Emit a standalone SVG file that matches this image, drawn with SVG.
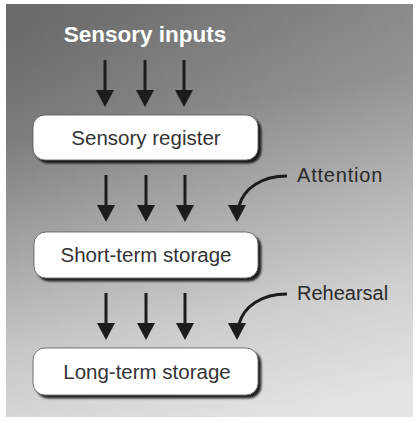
<svg xmlns="http://www.w3.org/2000/svg" width="419" height="423" viewBox="0 0 419 423">
  <defs>
    <linearGradient id="bg" x1="0.42" y1="0" x2="0.58" y2="1">
      <stop offset="0" stop-color="#6a6a6a"/>
      <stop offset="0.25" stop-color="#7c7c7c"/>
      <stop offset="0.5" stop-color="#a2a2a2"/>
      <stop offset="0.75" stop-color="#c6c6c6"/>
      <stop offset="1" stop-color="#dedede"/>
    </linearGradient>
    <linearGradient id="sheen" x1="0" y1="0" x2="1" y2="0">
      <stop offset="0" stop-color="#ffffff" stop-opacity="0"/>
      <stop offset="1" stop-color="#ffffff" stop-opacity="0.18"/>
    </linearGradient>
    <filter id="shadow" x="-10%" y="-20%" width="130%" height="160%">
      <feGaussianBlur in="SourceAlpha" stdDeviation="1.3"/>
      <feOffset dx="3" dy="3" result="b"/>
      <feComponentTransfer><feFuncA type="linear" slope="0.85"/></feComponentTransfer>
      <feMerge><feMergeNode/><feMergeNode in="SourceGraphic"/></feMerge>
    </filter>
  </defs>
  <style>
    .box { fill: #ffffff; stroke: #555555; stroke-width: 0.8; filter: url(#shadow); }
    .label { font-family: "Liberation Sans", Arial, sans-serif; font-size: 20.5px; fill: #333333; text-anchor: middle; }
    .side { font-family: "Liberation Sans", Arial, sans-serif; font-size: 20px; fill: #2a2a2a; }
    .title { font-family: "Liberation Sans", Arial, sans-serif; font-size: 22.5px; font-weight: bold; fill: #ffffff; text-anchor: middle; }
    .shaft { stroke: #1c1c1c; stroke-width: 3; fill: none; }
    .head { fill: #1c1c1c; }
  </style>

  <!-- page and shaded panel -->
  <rect x="0" y="0" width="419" height="423" fill="#ffffff"/>
  <rect x="6" y="4" width="407" height="413" fill="url(#bg)"/>
  <rect x="6" y="4" width="407" height="413" fill="url(#sheen)"/>

  <text class="title" x="145" y="42">Sensory inputs</text>

  <g id="sensory-register">
    <rect class="box" x="33" y="115" width="225" height="45" rx="12"/>
    <text class="label" x="146" y="145">Sensory register</text>
  </g>

  <g id="short-term-storage">
    <rect class="box" x="34" y="232" width="224" height="46" rx="12"/>
    <text class="label" x="146" y="262">Short-term storage</text>
  </g>

  <g id="long-term-storage">
    <rect class="box" x="33" y="348" width="225" height="47" rx="12"/>
    <text class="label" x="147" y="379">Long-term storage</text>
  </g>

  <g id="attention-label">
    <text class="side" x="297" y="182" letter-spacing="0.8">Attention</text>
  </g>
  <g id="rehearsal-label">
    <text class="side" x="297" y="300">Rehearsal</text>
  </g>

  <g id="connectors">
    <!-- inputs into the sensory register -->
    <path class="shaft" d="M105,60 V91"/><path class="head" d="M96,90 H114 L105,107 Z"/>
    <path class="shaft" d="M145,60 V91"/><path class="head" d="M136,90 H154 L145,107 Z"/>
    <path class="shaft" d="M184,60 V91"/><path class="head" d="M175,90 H193 L184,107 Z"/>

    <!-- sensory register to short-term storage -->
    <path class="shaft" d="M106,175 V206"/><path class="head" d="M97,205 H115 L106,222 Z"/>
    <path class="shaft" d="M146,175 V206"/><path class="head" d="M137,205 H155 L146,222 Z"/>
    <path class="shaft" d="M185,175 V206"/><path class="head" d="M176,205 H194 L185,222 Z"/>
    <path class="shaft" d="M287,176 C262,176 244,188 239,206"/><path class="head" d="M228,205 H246 L237,222 Z"/>

    <!-- short-term to long-term storage -->
    <path class="shaft" d="M106,293 V324"/><path class="head" d="M97,323 H115 L106,340 Z"/>
    <path class="shaft" d="M146,293 V324"/><path class="head" d="M137,323 H155 L146,340 Z"/>
    <path class="shaft" d="M185,293 V324"/><path class="head" d="M176,323 H194 L185,340 Z"/>
    <path class="shaft" d="M287,294 C262,294 244,306 239,324"/><path class="head" d="M228,323 H246 L237,340 Z"/>
  </g>
</svg>
